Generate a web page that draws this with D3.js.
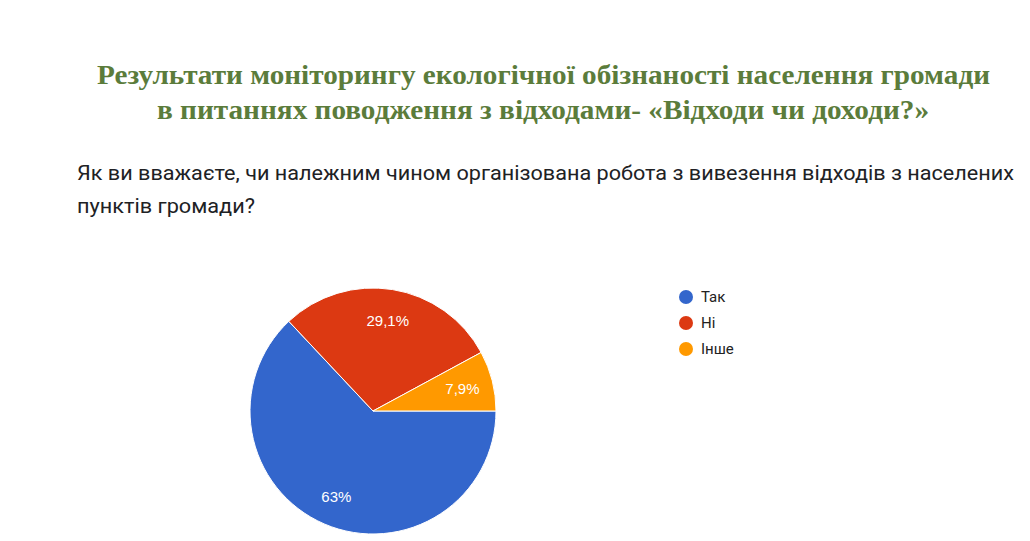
<!DOCTYPE html>
<html><head><meta charset="utf-8">
<script src="https://cdn.jsdelivr.net/npm/d3@7"></script>
<style>body{margin:0;background:#fff;}svg{display:block;}</style>
</head><body>
<svg id="c" width="1030" height="541"></svg>
<script>
const titleLines = ["Результати моніторингу екологічної обізнаності населення громади", "в питаннях поводження з відходами- «Відходи чи доходи?»"];
const questionLines = ["Як ви вважаєте, чи належним чином організована робота з вивезення відходів з населених", "пунктів громади?"];
const categories = ["Так", "Ні", "Інше"];
const values = [63, 29.1, 7.9];
const labels = ["63%", "29,1%", "7,9%"];
const colors = ["#3366cc", "#dc3912", "#ff9900"];

const svg = d3.select("#c");
svg.append("rect").attr("width",1030).attr("height",541).attr("fill","#fff");

// Title
const tl = [{x:97, y:84, w:893}, {x:157, y:119, w:772}];
titleLines.forEach((t,i)=>{
  svg.append("text").attr("x",tl[i].x).attr("y",tl[i].y)
    .attr("font-family","'Liberation Serif', 'Times New Roman', serif")
    .attr("font-weight","bold").attr("font-size",27).attr("fill","#5b7c3b")
    .attr("textLength",tl[i].w).attr("lengthAdjust","spacingAndGlyphs").text(t);
});
// Question
const ql = [{x:77, y:180, w:937}, {x:77, y:213, w:178}];
questionLines.forEach((t,i)=>{
  svg.append("text").attr("x",ql[i].x).attr("y",ql[i].y)
    .attr("font-family","Roboto, 'Noto Sans', sans-serif")
    .attr("font-size",20).attr("fill","#202124")
    .attr("textLength",ql[i].w).attr("lengthAdjust","spacingAndGlyphs").text(t);
});

// Pie
const cx = 373, cy = 411, r = 123;
const pie = d3.pie().sort(null).startAngle(Math.PI/2).endAngle(Math.PI/2 + 2*Math.PI);
const arcs = pie(values);
const arc = d3.arc().innerRadius(0).outerRadius(r);
const g = svg.append("g").attr("transform",`translate(${cx},${cy})`);
g.selectAll("path").data(arcs).enter().append("path")
  .attr("d",arc).attr("fill",(d,i)=>colors[i]).attr("stroke","#fff").attr("stroke-width",1);
const labelArc = d3.arc().innerRadius(r*0.75).outerRadius(r*0.75);
g.selectAll("text.l").data(arcs).enter().append("text").attr("class","l")
  .attr("transform",d=>`translate(${labelArc.centroid(d)})`)
  .attr("text-anchor","middle").attr("dy","0.4em")
  .attr("font-family","'Liberation Sans', Arial, sans-serif").attr("font-size",15)
  .attr("fill","#fff").text((d,i)=>labels[i]);

// Legend
const lg = svg.append("g");
categories.forEach((c,i)=>{
  const y = 297 + i*26;
  lg.append("circle").attr("cx",686).attr("cy",y).attr("r",7).attr("fill",colors[i]);
  lg.append("text").attr("x",701).attr("y",y).attr("dy","0.35em")
    .attr("font-family","Roboto, 'Liberation Sans', Arial, sans-serif").attr("font-size",15)
    .attr("fill","#222").text(c);
});
</script>
</body></html>
